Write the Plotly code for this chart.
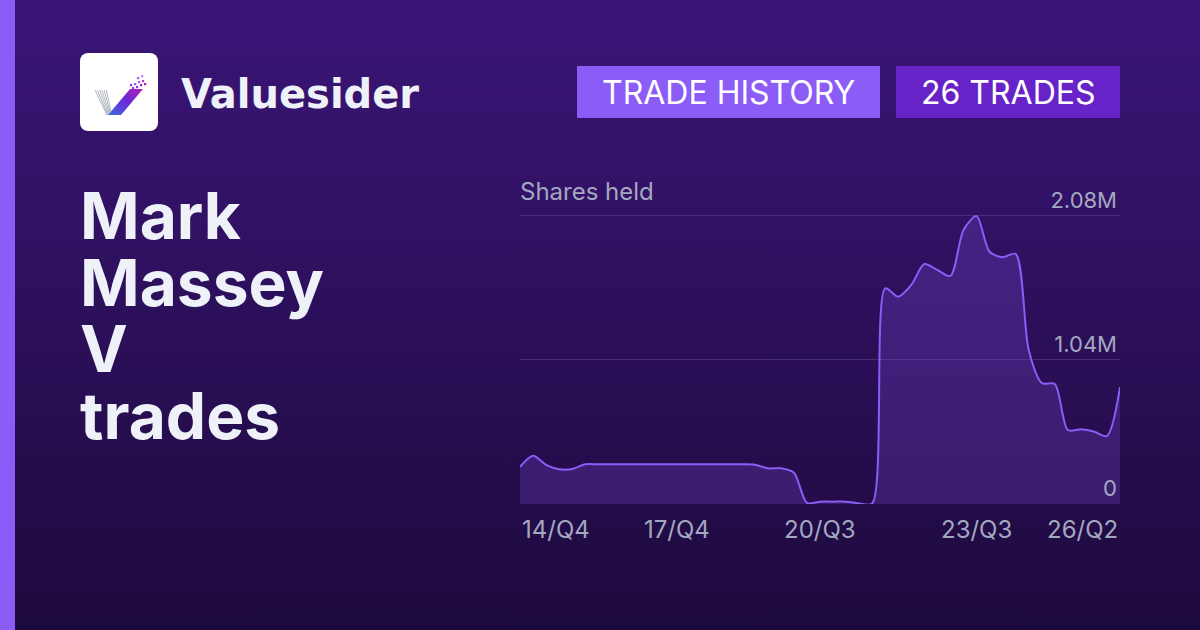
import base64
import plotly.graph_objects as go

# ---------------- data ----------------
quarters = []
y, q = 2014, 4
while (y, q) <= (2026, 2):
    quarters.append(f"{y % 100:02d}/Q{q}")
    q += 1
    if q > 4:
        q, y = 1, y + 1

shares_m = [0.268, 0.349, 0.282, 0.251, 0.253, 0.287, 0.287, 0.287, 0.287, 0.287,
            0.287, 0.287, 0.287, 0.287, 0.287, 0.287, 0.287, 0.287, 0.284, 0.258,
            0.258, 0.226, 0.008, 0.017, 0.017, 0.017, 0.004, 0.004, 1.558, 1.497,
            1.582, 1.733, 1.690, 1.647, 1.979, 2.080, 1.822, 1.782, 1.806, 1.112,
            0.874, 0.867, 0.534, 0.539, 0.524, 0.491, 0.843]
shares = [v * 1e6 for v in shares_m]

x_tick_labels = ["14/Q4", "17/Q4", "20/Q3", "23/Q3", "26/Q2"]
y_tick_vals = [0, 1.04e6, 2.08e6]
y_tick_text = ["0", "1.04M", "2.08M"]

title_lines = ["Mark", "Massey", "V", "trades"]
brand = "Valuesider"
badge_left = "TRADE HISTORY"
badge_right = "26 TRADES"
axis_title = "Shares held"

# ---------------- styling helpers ----------------
W, H = 1200, 630
def px(xp):
    return xp / W
def py(yp):
    return 1 - yp / H

bg_svg = f'''<svg xmlns="http://www.w3.org/2000/svg" width="{W}" height="{H}" viewBox="0 0 {W} {H}" preserveAspectRatio="none">
<defs><linearGradient id="g" x1="0" y1="0" x2="0" y2="1">
<stop offset="0" stop-color="#3b1578"/><stop offset="1" stop-color="#1d0a3d"/></linearGradient></defs>
<rect width="{W}" height="{H}" fill="url(#g)"/></svg>'''

stripes = "".join(
    f'<line x1="{15 + k * 2.3:.1f}" y1="37" x2="{27 + k * 0.9:.1f}" y2="62" stroke="#9ca3af" stroke-width="0.8"/>'
    for k in range(6)
)
dots = "".join(
    f'<rect x="{xx}" y="{yy}" width="2.2" height="2.2" fill="{c}"/>'
    for xx, yy, c in [(52, 34, "#7c3aed"), (56, 33, "#9333ea"), (60, 31, "#a21caf"), (54, 30, "#8b5cf6"),
                      (58, 28, "#a855f7"), (62, 27, "#c026d3"), (57, 24, "#a855f7"), (61, 22, "#c084fc"),
                      (64, 30, "#a21caf"), (50, 31, "#7c3aed")]
)
logo_svg = f'''<svg xmlns="http://www.w3.org/2000/svg" width="78" height="78" viewBox="0 0 78 78">
<defs><linearGradient id="a" x1="0" y1="1" x2="1" y2="0">
<stop offset="0" stop-color="#3b6fe0"/><stop offset="0.55" stop-color="#6d28d9"/><stop offset="1" stop-color="#b21fb8"/></linearGradient></defs>
<rect width="78" height="78" rx="8" fill="#ffffff"/>
{stripes}
<polygon points="28,62 41,62 63,36 50,36" fill="url(#a)"/>
{dots}
</svg>'''

def uri(svg):
    return "data:image/svg+xml;base64," + base64.b64encode(svg.encode()).decode()

text_col = "#eef1f7"
muted = "#a3a8c0"
FONT = "Inter"

# ---------------- figure ----------------
fig = go.Figure()
fig.add_trace(go.Scatter(
    x=quarters, y=shares, mode="lines",
    line=dict(color="#8b5cf6", width=2, shape="spline", smoothing=0.8),
    fill="tozeroy", fillcolor="rgba(139,92,246,0.22)",
    hoverinfo="skip", showlegend=False,
))

# y range above the top tick so its inside label and the peak are not clipped
y_top = 2.45e6
px_per_unit = (504 - 216) / 2.08e6
x_dom = [px(520), px(1120)]
y_dom = [py(504), py(504 - y_top * px_per_unit)]

fig.update_layout(
    width=W, height=H,
    margin=dict(l=0, r=0, t=0, b=0),
    paper_bgcolor="#2b1160", plot_bgcolor="rgba(0,0,0,0)",
    font=dict(family=FONT, color=muted),
    xaxis=dict(domain=x_dom, type="category", range=[0, len(quarters) - 1],
               showgrid=False, zeroline=False, showticklabels=False, ticks="", showline=False),
    yaxis=dict(domain=y_dom, range=[0, y_top], side="right",
               tickvals=y_tick_vals, ticktext=y_tick_text,
               ticklabelposition="inside top", ticks="",
               tickfont=dict(size=22, color=muted, family=FONT),
               showgrid=True, gridcolor="rgba(255,255,255,0.13)", gridwidth=1,
               zeroline=False, showline=False),
    images=[
        dict(source=uri(bg_svg), xref="paper", yref="paper", x=0, y=1, sizex=1, sizey=1,
             sizing="stretch", xanchor="left", yanchor="top", layer="below"),
        dict(source=uri(logo_svg), xref="paper", yref="paper", x=px(80), y=py(53),
             sizex=px(78), sizey=78 / H, sizing="stretch", xanchor="left", yanchor="top", layer="above"),
    ],
    shapes=[
        dict(type="rect", xref="paper", yref="paper", x0=0, x1=px(15), y0=0, y1=1,
             fillcolor="#8b5cf6", line=dict(width=0), layer="below"),
        dict(type="rect", xref="paper", yref="paper", x0=px(577), x1=px(880), y0=py(118), y1=py(66),
             fillcolor="#8b5cf6", line=dict(width=0)),
        dict(type="rect", xref="paper", yref="paper", x0=px(896), x1=px(1120), y0=py(118), y1=py(66),
             fillcolor="#6723c8", line=dict(width=0)),
    ],
)

ann = []
ann.append(dict(text=f"<b>{brand}</b>", x=px(179), y=py(94), xanchor="left", yanchor="middle",
                font=dict(size=40, color=text_col, family="DejaVu Sans")))
# one multi-line title; the base size sets the line pitch, spans set the glyph size
title_text = "<br>".join(
    f"<span style='font-size:64px;font-weight:bold'>{t}</span>" for t in title_lines)
ann.append(dict(text=title_text, x=px(78), y=py(315), xanchor="left", yanchor="middle",
                align="left", font=dict(size=51.3, color=text_col, family=FONT)))
ann.append(dict(text=badge_left, x=px((577 + 880) / 2), y=py(92), xanchor="center", yanchor="middle",
                font=dict(size=32, color="#ffffff", family=FONT)))
ann.append(dict(text=badge_right, x=px((896 + 1120) / 2), y=py(92), xanchor="center", yanchor="middle",
                font=dict(size=32, color="#ffffff", family=FONT)))
ann.append(dict(text=axis_title, x=px(518), y=py(191), xanchor="left", yanchor="middle",
                font=dict(size=24, color=muted, family=FONT)))
n = len(x_tick_labels)
for i, lab in enumerate(x_tick_labels):
    xa = "left" if i == 0 else ("right" if i == n - 1 else "center")
    ann.append(dict(text=lab, x=lab, xref="x", yref="paper", y=py(529), xanchor=xa, yanchor="middle",
                    font=dict(size=24, color=muted, family=FONT)))
for a in ann:
    a.setdefault("xref", "paper")
    a.setdefault("yref", "paper")
    a["showarrow"] = False
fig.update_layout(annotations=ann)

fig.write_html("out.html", config={"displayModeBar": False},
               post_script="document.body.style.margin='0';document.body.style.padding='0';")
